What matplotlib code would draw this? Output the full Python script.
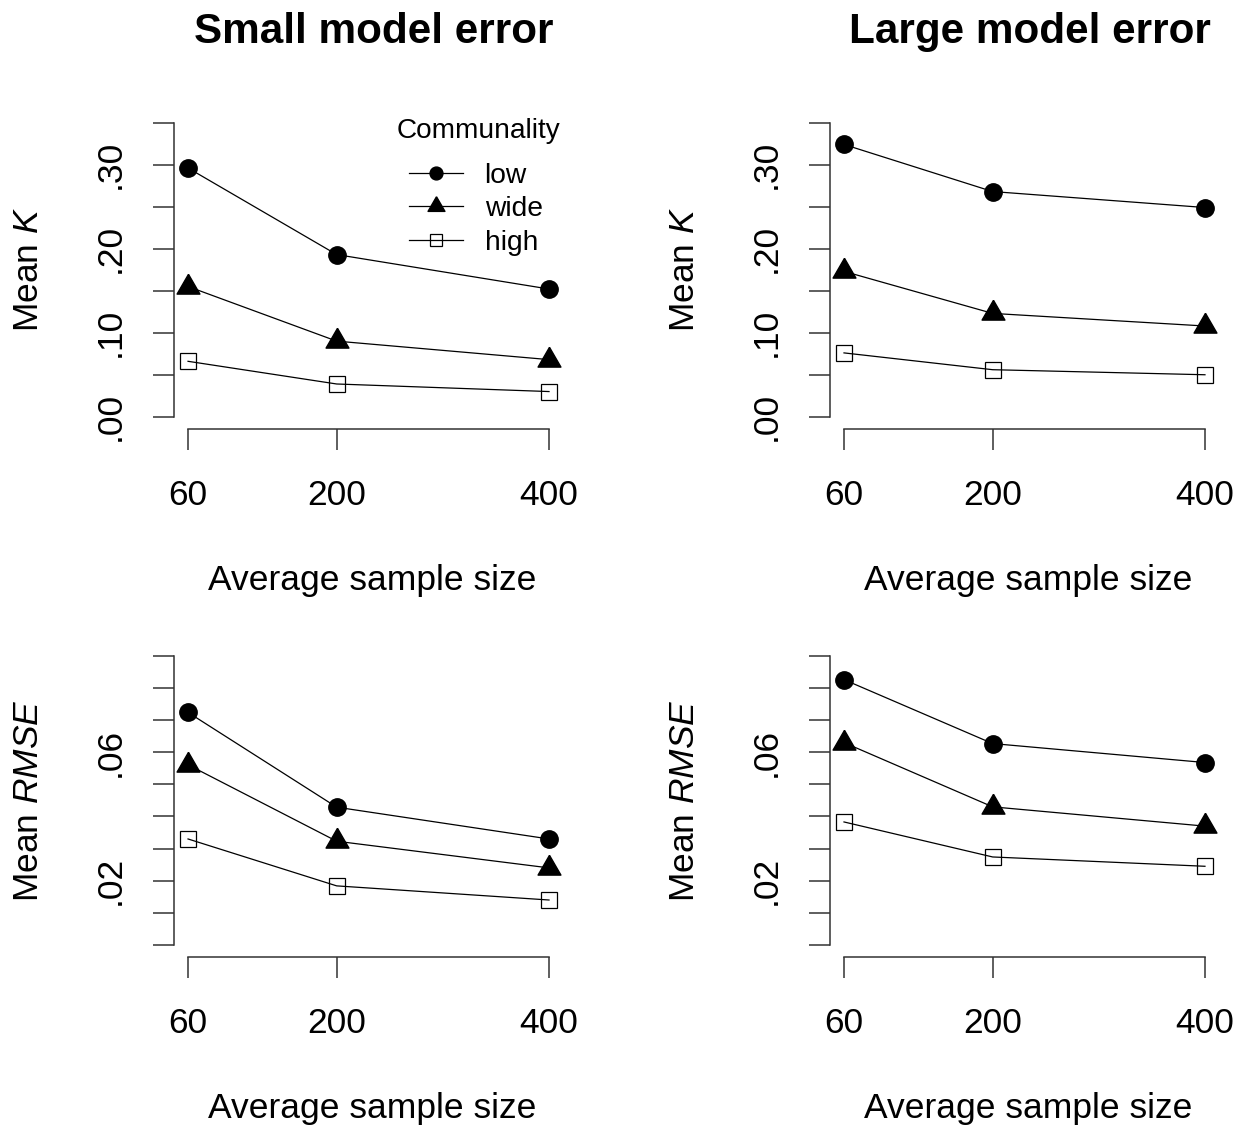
import numpy as np
import matplotlib
matplotlib.use('Agg')
import matplotlib.pyplot as plt

plt.rcParams['font.family'] = ['Liberation Sans', 'DejaVu Sans']
plt.rcParams['mathtext.fontset'] = 'custom'
plt.rcParams['mathtext.rm'] = 'Liberation Sans'
plt.rcParams['mathtext.it'] = 'Liberation Sans:italic'

sizes = [60, 200, 400]
groups = ['low', 'wide', 'high']

# mean K
k_small_low = [0.296, 0.193, 0.152]
k_small_wide = [0.155, 0.090, 0.068]
k_small_high = [0.066, 0.039, 0.030]
k_large_low = [0.324, 0.268, 0.249]
k_large_wide = [0.173, 0.123, 0.108]
k_large_high = [0.076, 0.056, 0.050]

# mean RMSE
rmse_small_low = [0.0724, 0.0429, 0.0330]
rmse_small_wide = [0.0561, 0.0323, 0.0240]
rmse_small_high = [0.0330, 0.0184, 0.0140]
rmse_large_low = [0.0826, 0.0627, 0.0568]
rmse_large_wide = [0.0630, 0.0430, 0.0370]
rmse_large_high = [0.0383, 0.0274, 0.0245]

k_ticks = [0.00, 0.05, 0.10, 0.15, 0.20, 0.25, 0.30, 0.35]
k_ticklabels = ['.00', '', '.10', '', '.20', '', '.30', '']
rmse_ticks = [0.00, 0.01, 0.02, 0.03, 0.04, 0.05, 0.06, 0.07, 0.08, 0.09]
rmse_ticklabels = ['', '', '.02', '', '', '', '.06', '', '', '']

titles = ['Small model error', 'Large model error']

# R style triangle (centroid on the point)
tri = [(0, 1.555), (1.347, -0.778), (-1.347, -0.778), (0, 1.555)]
styles = [dict(marker='o', ms=12.5, mfc='black', mec='black'),
          dict(marker=tri, ms=19, mfc='black', mec='black'),
          dict(marker='s', ms=11.5, mfc='none', mec='black', mew=0.9)]

fig = plt.figure(figsize=(12.4, 11.28), dpi=100)

lefts = [0.140, 0.669]
rows = [(0.6201, 0.2816), (0.1520, 0.2768)]
W = 0.3144
fs = 25.5

panels = [
    (0, 0, [k_small_low, k_small_wide, k_small_high], k_ticks, k_ticklabels, 'Mean $\\it{K}$'),
    (0, 1, [k_large_low, k_large_wide, k_large_high], k_ticks, k_ticklabels, 'Mean $\\it{K}$'),
    (1, 0, [rmse_small_low, rmse_small_wide, rmse_small_high], rmse_ticks, rmse_ticklabels, 'Mean $\\it{RMSE}$'),
    (1, 1, [rmse_large_low, rmse_large_wide, rmse_large_high], rmse_ticks, rmse_ticklabels, 'Mean $\\it{RMSE}$'),
]

for r, c, series, ticks, tlabels, ylab in panels:
    ax = fig.add_axes([lefts[c], rows[r][0], W, rows[r][1]])
    for vals, name, st in zip(series, groups, styles):
        ax.plot(sizes, vals, color='black', lw=0.9, label=name, **st)

    ext = 0.04 * (ticks[-1] - ticks[0])   # R style axis padding
    ax.set_ylim(ticks[0] - ext, ticks[-1] + ext)
    ax.set_xlim(60 - 0.04 * 340, 400 + 0.04 * 340)

    for s in ['top', 'right']:
        ax.spines[s].set_visible(False)
    ax.spines['left'].set_bounds(ticks[0], ticks[-1])
    ax.spines['bottom'].set_bounds(sizes[0], sizes[-1])
    for s in ['left', 'bottom']:
        ax.spines[s].set_color('#333333')
        ax.spines[s].set_linewidth(1.1)

    ax.set_xticks(sizes)
    ax.set_xticklabels([str(v) for v in sizes])
    ax.set_yticks(ticks)
    ax.set_yticklabels(tlabels)
    ax.tick_params(axis='both', direction='out', length=15, width=1.1, color='#333333', labelsize=fs)
    ax.tick_params(axis='x', pad=21)
    ax.tick_params(axis='y', pad=18.5)
    plt.setp(ax.get_yticklabels(), rotation=90, va='center')

    ax.set_ylabel(ylab, fontsize=fs)
    ax.yaxis.set_label_coords(-0.33, 0.5)
    ax.set_xlabel('Average sample size', fontsize=fs)
    ax.xaxis.set_label_coords(0.51, -0.427 if r == 0 else -0.434)

    if r == 0 and c == 0:
        ax.legend(loc='upper left',
                  bbox_to_anchor=(409 / 1240, 1 - 163 / 1128), bbox_transform=fig.transFigure,
                  frameon=False, fontsize=20.3, markerscale=0.74, borderaxespad=0,
                  handlelength=1.9, handletextpad=0.78, labelspacing=0.26, borderpad=0)
        fig.text(397 / 1240, 1 - 131 / 1128, 'Communality', fontsize=20.2, ha='left', va='center')

fig.text(373.5 / 1240, 1 - 43 / 1128, titles[0], fontsize=30.4, fontweight='bold', ha='center', va='baseline')
fig.text(1030 / 1240, 1 - 43 / 1128, titles[1], fontsize=30.4, fontweight='bold', ha='center', va='baseline')

plt.savefig('out.png', dpi=100)
